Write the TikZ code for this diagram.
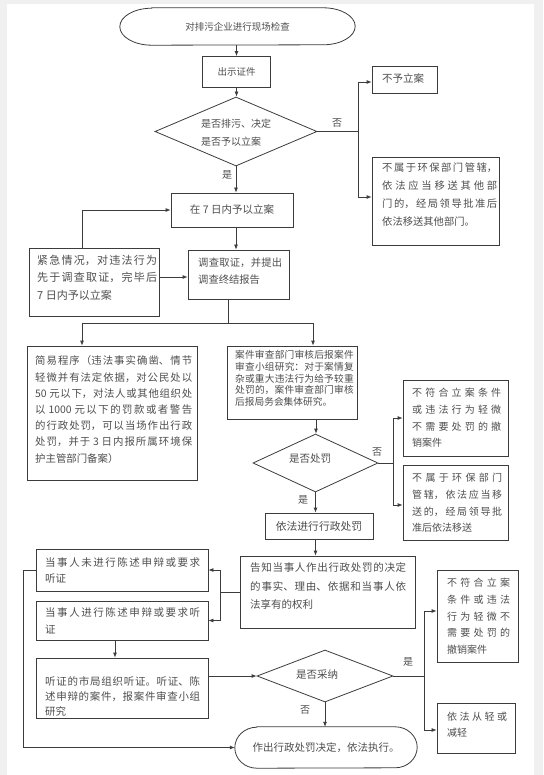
\documentclass[tikz,border=0pt]{standalone}
\usepackage{fontspec}
\setmainfont{Noto Sans CJK SC}
\usetikzlibrary{arrows.meta,shapes.geometric,calc}
\XeTeXlinebreaklocale "zh"
\XeTeXlinebreakskip=0pt plus 3pt
\newcommand\myfs[2]{\fontsize{#1}{#2}\selectfont}
\definecolor{linec}{HTML}{3C3C3C}
\definecolor{textc}{HTML}{4E4E4E}
\tikzset{
  box/.style={draw=linec, line width=0.8pt, inner sep=0pt, text=textc},
  dia/.style={draw=linec, line width=0.8pt, diamond, inner sep=0pt},
  term/.style={inner sep=0pt, text=textc},
  txt/.style={inner sep=0pt, text=textc, align=justify, anchor=base west},
  ctxt/.style={inner sep=0pt, text=textc},
  arr/.style={draw=linec, line width=0.8pt, -{Latex[length=5pt,width=4pt]}},
  ln/.style={draw=linec, line width=0.8pt},
  lab/.style={inner sep=0pt, text=textc, font=\myfs{10}{12}}
}
\begin{document}
\begin{tikzpicture}[x=1pt,y=-1pt]
\useasboundingbox (0,0) rectangle (543,775);
\fill[black!6] (0,0) rectangle (543,775);
\fill[white] (7,4) rectangle (534,775);

% terminals (text nodes plus elliptical-ended outlines)
\node[term, minimum width=235pt, minimum height=37pt, font=\myfs{9.5}{12}] (start) at (237.5,26.5) {对排污企业进行现场检查};
\draw[ln] ($(start.north west)+(32,0)$) -- ($(start.north east)+(-32,0)$)
  arc[start angle=90, end angle=-90, x radius=32pt, y radius=18.5pt]
  -- ($(start.south west)+(32,0)$)
  arc[start angle=270, end angle=90, x radius=32pt, y radius=18.5pt] -- cycle;
\node[term, minimum width=182pt, minimum height=41pt, font=\myfs{10.5}{12}] (end) at (326,747.5) {作出行政处罚决定，依法执行。};
\draw[ln] ($(end.north west)+(22,0)$) -- ($(end.north east)+(-22,0)$)
  arc[start angle=90, end angle=-90, x radius=22pt, y radius=20.5pt]
  -- ($(end.south west)+(22,0)$)
  arc[start angle=270, end angle=90, x radius=22pt, y radius=20.5pt] -- cycle;

% nodes
\node[box, minimum width=68pt, minimum height=31pt, font=\myfs{9.5}{12}] (show) at (236.5,72) {出示证件};
\node[dia, minimum width=162pt, minimum height=69pt] (d1) at (236,131.5) {};
\node[txt, align=left, text width=80pt, font=\myfs{10}{18}] (d1t) at (201,127.7) {是否排污、决定\\是否予以立案};
\node[box, minimum width=122pt, minimum height=34pt, font=\myfs{10.5}{12}] (r7) at (232,210) {在 7 日内予以立案};
\node[box, minimum width=65pt, minimum height=27pt] (no1) at (404.5,79.5) {};
\node[txt, text width=50pt, font=\myfs{10.5}{12}] (no1t) at (382,82.9) {不予立案};
\node[box, minimum width=127pt, minimum height=88pt] (no2) at (435.5,201) {};
\node[txt, text width=115pt, font=\myfs{10.3}{18}] (no2t) at (382,171.8) {不属于环保部门管辖，\linebreak 依法应当移送其他部\linebreak 门的，经局领导批准后\linebreak 依法移送其他部门。};
\node[box, minimum width=130pt, minimum height=68pt] (urgent) at (94,282) {};
\node[txt, text width=120pt, font=\myfs{11}{17.5}] (urgentt) at (37,264.1) {紧急情况，对违法行为\linebreak 先于调查取证，完毕后\linebreak 7 日内予以立案};
\node[box, minimum width=101pt, minimum height=49pt] (inv) at (238.5,274.5) {};
\node[txt, text width=84pt, font=\myfs{10.3}{16.5}] (invt) at (198,266.8) {调查取证，并提出\linebreak 调查终结报告};
\node[box, minimum width=170pt, minimum height=134pt] (simple) at (112,413) {};
\node[txt, text width=157pt, font=\myfs{10.4}{16.2}] (simplet) at (35,364.9) {简易程序（违法事实确凿、情节\linebreak 轻微并有法定依据，对公民处以\linebreak 50 元以下，对法人或其他组织处\linebreak 以 1000 元以下的罚款或者警告\linebreak 的行政处罚，可以当场作出行政\linebreak 处罚，并于 3 日内报所属环境保\linebreak 护主管部门备案）};
\node[box, minimum width=130pt, minimum height=73pt] (review) at (292,382.5) {};
\node[txt, text width=118.5pt, font=\myfs{9.7}{11.75}] (reviewt) at (235,358.6) {案件审查部门审核后报案件\linebreak 审查小组研究：对于案情复\linebreak 杂或重大违法行为给予较重\linebreak 处罚的，案件审查部门审核\linebreak 后报局务会集体研究。};
\node[dia, minimum width=125pt, minimum height=58pt] (d2) at (315.5,463) {};
\node[ctxt, font=\myfs{10.5}{12}] (d2t) at (310,459) {是否处罚};
\node[box, minimum width=105pt, minimum height=76pt] (boxA) at (455.5,418) {};
\node[txt, text width=89pt, font=\myfs{10}{16.7}] (boxAt) at (412,396.7) {不符合立案条件\linebreak 或违法行为轻微\linebreak 不需要处罚的撤\linebreak 销案件};
\node[box, minimum width=105pt, minimum height=75pt] (boxB) at (455.5,502.5) {};
\node[txt, text width=90pt, font=\myfs{10}{16.7}] (boxBt) at (412,481.7) {不属于环保部门\linebreak 管辖，依法应当移\linebreak 送的，经局领导批\linebreak 准后依法移送};
\node[box, minimum width=108pt, minimum height=26pt, font=\myfs{10.8}{12}] (punish) at (319,526) {依法进行行政处罚};
\node[box, minimum width=175pt, minimum height=72pt] (notify) at (327.5,592) {};
\node[txt, text width=156pt, font=\myfs{10.5}{18.5}] (notifyt) at (250,571.9) {告知当事人作出行政处罚的决定\linebreak 的事实、理由、依据和当事人依\linebreak 法享有的权利};
\node[box, minimum width=172pt, minimum height=42pt] (L1) at (122,570) {};
\node[txt, text width=155pt, font=\myfs{10.5}{16}] (L1t) at (45,566.9) {当事人未进行陈述申辩或要求\linebreak 听证};
\node[box, minimum width=172pt, minimum height=39pt] (L2) at (122,620.5) {};
\node[txt, text width=155pt, font=\myfs{10.5}{17}] (L2t) at (45,616.9) {当事人进行陈述申辩或要求听\linebreak 证};
\node[box, minimum width=172pt, minimum height=60pt] (L3) at (122,688) {};
\node[txt, text width=155pt, font=\myfs{10.5}{15}] (L3t) at (45,685.9) {听证的市局组织听证。听证、陈\linebreak 述申辩的案件，报案件审查小组\linebreak 研究};
\node[dia, minimum width=136pt, minimum height=52pt] (d3) at (325,676) {};
\node[ctxt, font=\myfs{10.5}{12}] (d3t) at (317,675) {是否采纳};
\node[box, minimum width=81pt, minimum height=92pt] (boxC) at (477.5,616) {};
\node[txt, text width=63pt, font=\myfs{10}{16.7}] (boxCt) at (447,586.7) {不符合立案\linebreak 条件或违法\linebreak 行为轻微不\linebreak 需要处罚的\linebreak 撤销案件};
\node[box, minimum width=78pt, minimum height=50pt] (boxD) at (476,728) {};
\node[txt, text width=60pt, font=\myfs{10}{16}] (boxDt) at (447,720.7) {依法从轻或\linebreak 减轻};

% labels
\node[lab] (l1) at (337,123) {否};
\node[lab] (l2) at (227,175) {是};
\node[lab] (l3) at (377,452) {否};
\node[lab] (l4) at (303,500) {是};
\node[lab] (l5) at (408,662) {是};
\node[lab] (l6) at (305,710) {否};

% junction coordinates
\coordinate (j1) at (358,131.5);
\coordinate (j2) at (228,323);
\coordinate (j3) at (393,463);
\coordinate (j4) at (220,592);
\coordinate (j5) at (424,676);
\coordinate (j6) at (23,570);

% connectors
\draw[arr] (start.south -| show.north) -- (show.north);
\draw[arr] (show.south) -- (show.south |- d1.north);
\draw[arr] (d1.south) -- (d1.south |- r7.north);
\draw[ln] (d1.east) -- (j1);
\draw[arr] (j1) |- ([yshift=-2.5pt]no1.west);
\draw[arr] (j1) |- ([yshift=4pt]no2.west);
\draw[arr] ([xshift=4pt]r7.south) -- ([xshift=4pt]r7.south |- inv.north);
\draw[arr] ([xshift=-12pt]urgent.north) |- (r7.west);
\draw[arr] ([yshift=5pt]urgent.east) -- ([yshift=5pt]urgent.east -| inv.west);
\draw[ln] ([xshift=-10.5pt]inv.south) -- (j2);
\draw[arr] (j2) -| ([xshift=-30pt]simple.north);
\draw[arr] (j2) -| ([xshift=21pt]review.north);
\draw[arr] ([xshift=24pt]review.south) -- ([xshift=24pt]review.south |- d2.north);
\draw[ln] (d2.east) -- (j3);
\draw[arr] (j3) |- (boxA.west);
\draw[arr] (j3) |- ([yshift=-2.5pt]boxB.west);
\draw[arr] (d2.south) -- (d2.south |- punish.north);
\draw[arr] ([xshift=-3.5pt]punish.south) -- ([xshift=-3.5pt]punish.south |- notify.north);
\draw[ln] (notify.west) -- (j4);
\draw[arr] (j4) |- (L1.east);
\draw[arr] (j4) |- (L2.east);
\draw[arr] ([xshift=-7pt]L2.south) -- ([xshift=-7pt]L2.south |- L3.north);
\draw[arr] (L3.east |- d3.west) -- (d3.west);
\draw[ln] (d3.east) -- (j5);
\draw[arr] (j5) |- ([yshift=5pt]boxC.west);
\draw[arr] (j5) |- ([yshift=-2pt]boxD.west);
\draw[arr] (d3.south) -- (d3.south |- end.north);
\draw[ln] (L1.west) -- (j6);
\draw[arr] (j6) |- (end.west);
\end{tikzpicture}
\end{document}
